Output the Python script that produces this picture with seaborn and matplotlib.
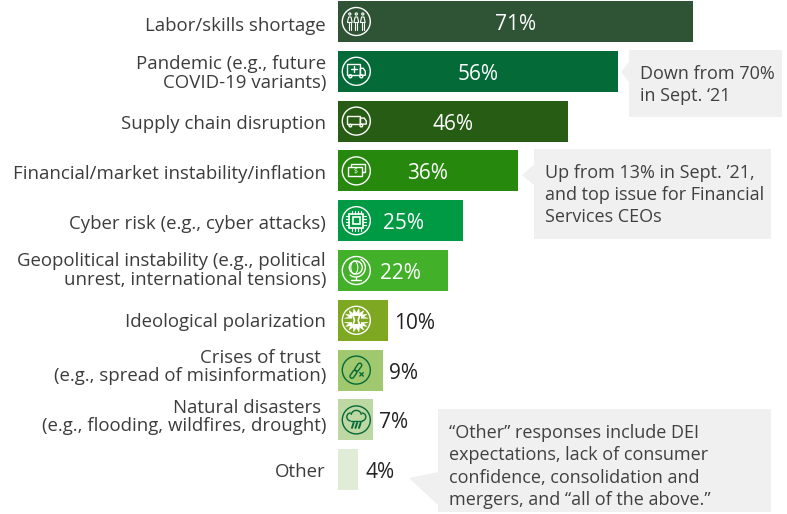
import numpy as np
import pandas as pd
import matplotlib
matplotlib.use("Agg")
import matplotlib.pyplot as plt
import seaborn as sns
from matplotlib.patches import Circle, Ellipse, Rectangle, Polygon, FancyBboxPatch, Arc
from matplotlib.lines import Line2D
from matplotlib.transforms import Affine2D

categories = [
    "Labor/skills shortage",
    "Pandemic (e.g., future\nCOVID-19 variants)",
    "Supply chain disruption",
    "Financial/market instability/inflation",
    "Cyber risk (e.g., cyber attacks)",
    "Geopolitical instability (e.g., political\nunrest, international tensions)",
    "Ideological polarization",
    "Crises of trust \n(e.g., spread of misinformation)",
    "Natural disasters \n(e.g., flooding, wildfires, drought)",
    "Other",
]
values = [71, 56, 46, 36, 25, 22, 10, 9, 7, 4]
bar_colors = ["#2F5335", "#046A38", "#275C14", "#26890D", "#009A44",
              "#43B02A", "#7EA822", "#A0C86F", "#BDD8A3", "#E0ECD6"]

W, H = 787, 514
BAR_LEFT = 338
PX_PER_PCT = 5
FIRST_Y, STEP_Y, BAR_H = 21.5, 49.8, 41

sns.set_theme(style="white")
plt.rcParams["font.family"] = ["Open Sans", "DejaVu Sans"]

df = pd.DataFrame({"category": categories, "value": values})

fig = plt.figure(figsize=(W / 100, H / 100), dpi=100)
ax = fig.add_axes([BAR_LEFT / W, 0, 1 - BAR_LEFT / W, 1])
sns.barplot(data=df, y="category", x="value", hue="category", palette=bar_colors,
            dodge=False, legend=False, width=BAR_H / STEP_Y, saturation=1, linewidth=0, ax=ax)
ax.set_xlim(0, (W - BAR_LEFT) / PX_PER_PCT)
ax.set_ylim((H - FIRST_Y) / STEP_Y, -FIRST_Y / STEP_Y)
ax.set_xlabel("")
ax.set_ylabel("")
ax.set_xticks([])
sns.despine(ax=ax, left=True, bottom=True)
ax.tick_params(axis="y", length=0, pad=8.6)

# labels in the original are not quite centred on their bars
label_nudge = [3, 0, 1, 1, 1, -2, 0, -5, -5, 0]
for lab, dy in zip(ax.get_yticklabels(), label_nudge):
    lab.set_fontsize(13.4)
    lab.set_color("#3C3C3C")
    lab.set_multialignment("right")
    lab.set_linespacing(1.02)
    lab.set_transform(lab.get_transform() + Affine2D().translate(0, -dy))

# --- value labels ---
nudge = {25: 3, 22: 7}
for i, v in enumerate(values):
    if v > 20:
        ax.annotate(f"{v}%", (v / 2, i), xytext=(nudge.get(v, 0), -3), textcoords="offset pixels",
                    ha="center", va="center", color="white", fontsize=15)
    else:
        ax.annotate(f"{v}%", (v, i), xytext=(6 if v > 4 else 8, -3), textcoords="offset pixels",
                    ha="left", va="center", color="#222222", fontsize=15)

# pixel space helper, y going down like the picture
px = Affine2D().scale(1, -1).translate(0, H)
LW = 1.0


def add(p):
    p.set_transform(px)
    p.set_clip_on(False)
    p.set_zorder(6)
    fig.add_artist(p)


def line(xs, ys, c, lw=LW):
    add(Line2D(xs, ys, color=c, lw=lw, solid_capstyle="round"))


def ring(cx, cy, r, c, lw=LW, fill=False):
    add(Circle((cx, cy), r, fill=fill, fc=c if fill else "none", ec=c, lw=lw))


def box(x, y, w, h, c, fill="none", lw=LW):
    add(Rectangle((x, y), w, h, fc=fill, ec=c, lw=lw))


def icon_people(x, y, c):
    for dx in (-6.5, 0, 6.5):
        ring(x + dx, y - 7.5, 1.1, c, lw=0.8)
        add(Polygon([(x + dx - 2.4, y + 1), (x + dx - 1.2, y - 4.5), (x + dx + 1.2, y - 4.5), (x + dx + 2.4, y + 1)],
                    fc="none", ec=c, lw=0.8))
        line([x + dx - 1, x + dx - 1], [y + 1.5, y + 8], c, lw=0.8)
        line([x + dx + 1, x + dx + 1], [y + 1.5, y + 8], c, lw=0.8)


def icon_ambulance(x, y, c):
    box(x - 9, y - 7, 13, 11, c)
    add(Polygon([(x + 4, y - 3), (x + 7, y - 3), (x + 9, y), (x + 9, y + 4), (x + 4, y + 4)], fc="none", ec=c, lw=LW))
    line([x - 5.5, x + 0.5], [y - 2, y - 2], c)
    line([x - 2.5, x - 2.5], [y - 5, y + 1], c)
    ring(x - 6, y + 5, 1.5, c)
    ring(x + 5, y + 5, 1.5, c)


def icon_truck(x, y, c):
    box(x - 9, y - 5, 13, 8, c)
    add(Polygon([(x + 4, y - 3), (x + 8, y - 3), (x + 10, y), (x + 10, y + 3), (x + 4, y + 3)], fc="none", ec=c, lw=LW))
    ring(x - 6, y + 4.5, 1.3, c)
    ring(x + 5, y + 4.5, 1.3, c)


def icon_money(x, y, c):
    box(x - 5, y - 7, 14, 8, c)
    box(x - 8, y - 4, 14, 9, c, fill=bar_colors[3])
    fig.add_artist(plt.Text(x - 1, y + 0.5, "$", transform=px, color=c, fontsize=5, ha="center", va="center",
                            zorder=7))


def icon_chip(x, y, c):
    box(x - 7, y - 7, 14, 14, c, lw=1.2)
    box(x - 3.5, y - 3.5, 7, 7, c, lw=1.2)
    for d in (-4.5, -1.5, 1.5, 4.5):
        line([x + d, x + d], [y - 10, y - 7], c, lw=0.8)
        line([x + d, x + d], [y + 7, y + 10], c, lw=0.8)
        line([x - 10, x - 7], [y + d, y + d], c, lw=0.8)
        line([x + 7, x + 10], [y + d, y + d], c, lw=0.8)


def icon_globe(x, y, c):
    ring(x - 0.5, y - 3, 6.5, c)
    add(Ellipse((x - 2, y - 3), 7, 13, fc="none", ec=c, lw=0.8))
    add(Arc((x - 0.5, y - 3), 19, 19, theta1=-60, theta2=130, ec=c, lw=LW))
    line([x, x], [y + 6.5, y + 9], c)
    line([x - 5, x + 5], [y + 9.5, y + 9.5], c)


def icon_burst(x, y, c):
    for sign in (-1, 1):
        pts = []
        n = 7
        for k in range(n * 2 + 1):
            a = np.pi * k / (n * 2)
            r = 11.8 if k % 2 == 0 else 7.5
            pts.append((x + r * np.cos(a), y + sign * (2 + (r - 2) * np.sin(a))))
        add(Polygon(pts, fc=c, ec=c, lw=0.3))
    add(Rectangle((x - 4.5, y - 4), 9, 8, fc=bar_colors[6], ec="none"))
    line([x - 3.5, x - 1.8, x - 3.5], [y - 5, y, y + 5], c, lw=1.2)
    line([x + 3.5, x + 1.8, x + 3.5], [y - 5, y, y + 5], c, lw=1.2)


def icon_link(x, y, c):
    t = Affine2D().rotate_deg_around(x, y, -55) + px
    for dx in (-5, 3.5):
        p = FancyBboxPatch((x + dx - 4.5, y - 2), 9, 4, boxstyle="round,pad=0,rounding_size=2", fc="none", ec=c, lw=LW)
        p.set_transform(t)
        p.set_clip_on(False)
        p.set_zorder(6)
        fig.add_artist(p)
    line([x + 3.5, x + 7], [y + 2.5, y + 6], c)
    line([x + 7, x + 3.5], [y + 2.5, y + 6], c)


def icon_cloud(x, y, c):
    add(Arc((x - 5.5, y - 3), 8, 8, theta1=90, theta2=270, ec=c, lw=LW))
    add(Arc((x, y - 5), 10, 9, theta1=180, theta2=360, ec=c, lw=LW))
    add(Arc((x + 5.5, y - 3), 8, 8, theta1=270, theta2=90, ec=c, lw=LW))
    line([x - 5.5, x + 5.5], [y + 1, y + 1], c)
    for dx in (-3.5, 0, 3.5):
        line([x + dx + 0.8, x + dx - 0.8], [y + 3, y + 8], c, lw=1.4)


icons = [icon_people, icon_ambulance, icon_truck, icon_money, icon_chip,
         icon_globe, icon_burst, icon_link, icon_cloud]
icon_colors = ["white"] * 7 + ["#046A38"] * 2
for i, (draw, c) in enumerate(zip(icons, icon_colors)):
    cy = FIRST_Y + STEP_Y * i
    ring(356.3, cy, 14, c, lw=1.0)
    draw(356.3, cy, c)


# --- grey callouts ---
def callout(pts, text, tx, ty):
    add(Polygon(pts, fc="#F0F0F0", ec="none", joinstyle="round"))
    t = plt.Text(tx, ty, text, transform=px, color="#404040", fontsize=13, ha="left", va="top",
                 linespacing=1.31, zorder=7)
    fig.add_artist(t)


callout([(629, 50), (782, 50), (782, 117), (629, 117), (629, 82), (621, 72), (629, 62)],
        "Down from 70%\nin Sept. ‘21", 640, 65)
callout([(534, 149), (771, 149), (771, 239), (534, 239), (534, 185), (522, 175), (534, 165)],
        "Up from 13% in Sept. ’21,\nand top issue for Financial\nServices CEOs", 545, 163.5)
callout([(438, 409), (771, 409), (771, 512), (438, 512), (438, 505), (409, 478), (438, 472)],
        "“Other” responses include DEI\nexpectations, lack of consumer\nconfidence, consolidation and\nmergers, and “all of the above.”", 449, 424)

fig.savefig("out.png", dpi=100)
